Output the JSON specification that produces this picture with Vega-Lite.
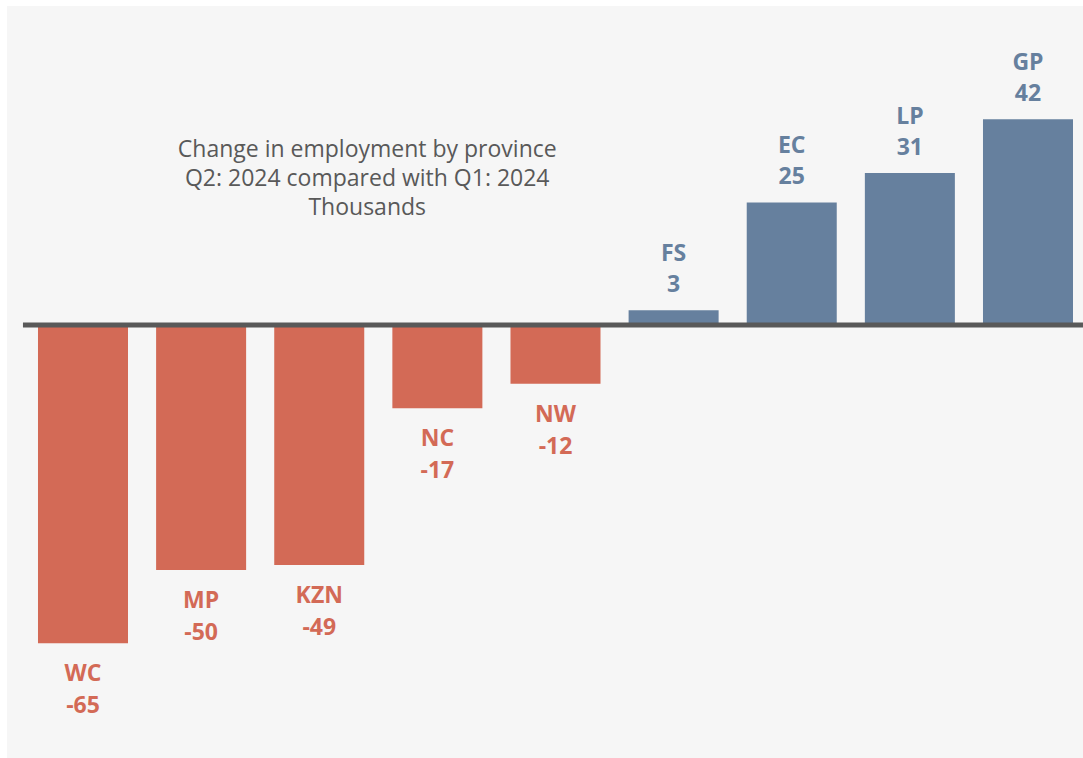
{
  "$schema": "https://vega.github.io/schema/vega-lite/v6.json",
  "width": 1076,
  "height": 752,
  "autosize": {"type": "none"},
  "padding": {"left": 7, "top": 6, "right": 0, "bottom": 0},
  "background": "#ffffff",
  "config": {"view": {"stroke": null, "fill": "#f6f6f6"}},
  "data": {
    "values": [
      {"province": "WC", "value": -65},
      {"province": "MP", "value": -50},
      {"province": "KZN", "value": -49},
      {"province": "NC", "value": -17},
      {"province": "NW", "value": -12},
      {"province": "FS", "value": 3},
      {"province": "EC", "value": 25},
      {"province": "LP", "value": 31},
      {"province": "GP", "value": 42}
    ]
  },
  "encoding": {
    "x": {
      "field": "province",
      "type": "nominal",
      "sort": null,
      "axis": null,
      "scale": {"paddingInner": 0.238, "paddingOuter": 0.1735, "align": 0.756}
    },
    "y": {
      "field": "value",
      "type": "quantitative",
      "axis": null,
      "scale": {"domain": [-88.4, 65.1], "nice": false, "zero": false}
    },
    "color": {
      "condition": {"test": "datum.value < 0", "value": "#D36A56"},
      "value": "#66809E"
    }
  },
  "layer": [
    {"mark": {"type": "bar"}},
    {
      "transform": [{"filter": "datum.value >= 0"}],
      "mark": {"type": "text", "font": "Open Sans", "fontSize": 23, "fontWeight": "bold", "baseline": "alphabetic", "dy": -49},
      "encoding": {"text": {"field": "province"}}
    },
    {
      "transform": [{"filter": "datum.value >= 0"}],
      "mark": {"type": "text", "font": "Open Sans", "fontSize": 23, "fontWeight": "bold", "baseline": "alphabetic", "dy": -18},
      "encoding": {"text": {"field": "value", "type": "nominal"}}
    },
    {
      "transform": [{"filter": "datum.value < 0"}],
      "mark": {"type": "text", "font": "Open Sans", "fontSize": 23, "fontWeight": "bold", "baseline": "alphabetic", "dy": 38},
      "encoding": {"text": {"field": "province"}}
    },
    {
      "transform": [{"filter": "datum.value < 0"}],
      "mark": {"type": "text", "font": "Open Sans", "fontSize": 23, "fontWeight": "bold", "baseline": "alphabetic", "dy": 70},
      "encoding": {"text": {"field": "value", "type": "nominal"}}
    },
    {
      "transform": [{"filter": "datum.province == 'WC'"}],
      "mark": {"type": "rule", "strokeWidth": 5, "color": "#595959"},
      "encoding": {
        "x": {"datum": "WC", "bandPosition": -0.167},
        "x2": {"datum": "GP", "bandPosition": 1.111},
        "y": {"datum": 0},
        "color": {"value": "#595959"}
      }
    },
    {
      "transform": [{"filter": "datum.province == 'WC'"}],
      "mark": {"type": "text", "font": "Open Sans", "fontSize": 23, "lineHeight": 29, "align": "center", "baseline": "middle", "color": "#595959", "dx": 48},
      "encoding": {
        "x": {"datum": "KZN"},
        "y": {"datum": 35.7},
        "text": {"value": ["Change in employment by province", "Q2: 2024 compared with Q1: 2024", "Thousands"]},
        "color": {"value": "#595959"}
      }
    }
  ]
}
